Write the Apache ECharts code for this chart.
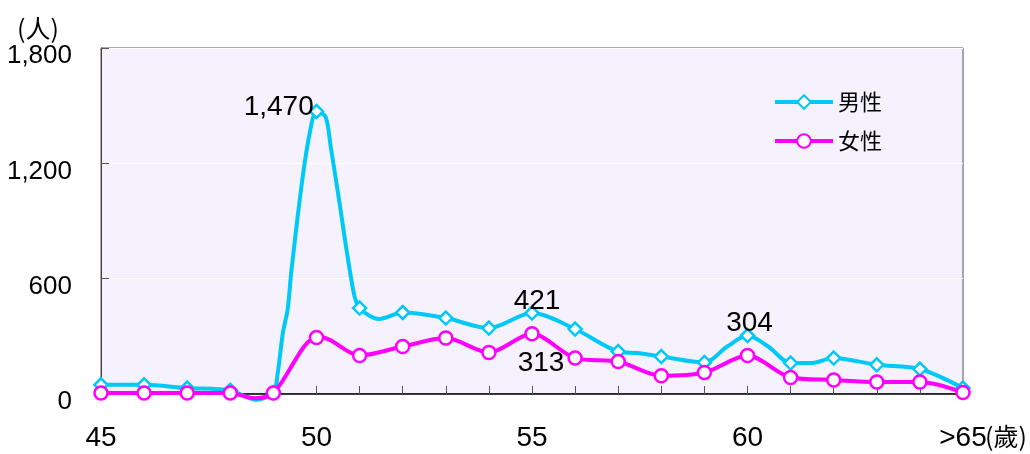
<!DOCTYPE html>
<html>
<head>
<meta charset="utf-8">
<script src="https://cdn.jsdelivr.net/npm/echarts@6/dist/echarts.min.js"></script>
<style>
  html, body { margin: 0; padding: 0; background: #fff; }
  #chart { width: 1030px; height: 454px; }
</style>
</head>
<body>
<div id="chart"></div>
<script>
// ages with a marker are whole years; the fractional ones trace the bends of the curve
const maleAges = [45, 46, 47, 48, 48.6, 49, 49.1, 49.22, 49.33, 49.42, 49.68, 49.87, 50, 50.21, 50.33, 50.5, 50.85,
  51, 51.45, 52, 53, 54, 55, 56, 57, 57.43, 58, 59, 59.53, 60, 60.48, 61, 61.47, 62, 63, 64, 65];
const maleValues = [48, 48, 31, 19, -30, 7, 109, 318, 438, 646, 1130, 1390, 1470, 1442, 1286, 1044, 542,
  447, 390, 424, 395, 343, 421, 338, 221, 213, 195, 164, 247, 304, 247, 161, 161, 187, 152, 130, 31];

const femaleAges = [45, 46, 47, 48, 48.55, 49, 50, 50.2, 51, 52, 53, 54, 55, 56, 57, 58, 59, 60, 61, 62, 63, 64, 65];
const femaleValues = [5, 5, 5, 5, -22, 5, 294, 291, 200, 247, 291, 216, 313, 187, 169, 95, 112, 200, 86, 73, 62, 62, 8];

const maleLabelAges = [50, 55, 60];
const femaleLabelAges = [55];

const xLabelValues = [45, 50, 55, 60, 65];
const xLabelTexts = ["45", "50", "55", "60", ">65"];
const yTicks = [0, 600, 1200, 1800];

const numFont = "'Liberation Sans', Arial, sans-serif";
const cjkFont = "'Noto Sans CJK TC', 'Noto Sans CJK SC', sans-serif";

const chartDom = document.getElementById("chart");
const myChart = echarts.init(chartDom, null, { renderer: "canvas" });

const fmt = (v) => v.toLocaleString("en-US");

const labelStyles = {
  male: {
    50: { position: "left", distance: 0, offset: [5, -4] },
    55: { position: "top", distance: 0, offset: [5, 10] },
    60: { position: "top", distance: 0, offset: [2, 9] },
  },
  female: {
    55: { position: "bottom", distance: 0, offset: [9, 8] },
  },
};

const buildData = (xs, ys, labelAges, styles) =>
  xs.map((x, i) => {
    const y = ys[i];
    const item = { value: [x, y] };
    if (!Number.isInteger(x)) item.symbol = "none";
    if (labelAges.includes(x)) {
      item.label = {
        show: true,
        formatter: fmt(y),
        fontFamily: numFont,
        fontSize: 28,
        color: "#000",
        ...styles[x],
      };
    }
    return item;
  });

const option = {
  animation: false,
  backgroundColor: "#fff",
  grid: {
    left: 101,
    right: 67,
    top: 48,
    bottom: 60,
    show: true,
    backgroundColor: "#F5F2FD",
    borderColor: "#555",
    borderWidth: 1,
  },
  legend: {
    orient: "vertical",
    left: 768,
    top: 86,
    itemWidth: 58,
    itemHeight: 17,
    itemGap: 17,
    lineStyle: { width: 4 },
    textStyle: {
      fontFamily: cjkFont,
      fontSize: 22,
      color: "#000",
    },
    data: ["男性", "女性"],
  },
  graphic: [
    {
      type: "text",
      left: 17,
      top: 16,
      style: { text: "(人)", fontFamily: cjkFont, fontSize: 25, fill: "#000" },
    },
    {
      type: "text",
      left: 985,
      top: 424,
      style: { text: "(歲)", fontFamily: cjkFont, fontSize: 25, fill: "#000" },
    },
  ],
  xAxis: {
    type: "value",
    min: 45,
    max: 65,
    interval: 1,
    axisLine: { show: true, lineStyle: { color: "#000", width: 1.5 } },
    axisTick: { show: true, inside: true, length: 8, lineStyle: { color: "#555" } },
    splitLine: { show: false },
    axisLabel: {
      margin: 30,
      fontFamily: numFont,
      fontSize: 28,
      color: "#000",
      formatter: (v) => {
        const i = xLabelValues.indexOf(v);
        return i >= 0 ? xLabelTexts[i] : "";
      },
    },
  },
  yAxis: {
    type: "value",
    min: yTicks[0],
    max: yTicks[yTicks.length - 1],
    interval: yTicks[1] - yTicks[0],
    axisLine: { show: true, lineStyle: { color: "#444", width: 1 } },
    axisTick: { show: true, inside: true, length: 8, lineStyle: { color: "#555" } },
    splitLine: { show: true, lineStyle: { color: "#fff", width: 1 } },
    axisLabel: {
      margin: 29,
      verticalAlign: "top",
      lineHeight: 16,
      fontFamily: numFont,
      fontSize: 26,
      color: "#000",
      formatter: (v) => fmt(v),
    },
  },
  series: [
    {
      name: "男性",
      type: "line",
      smooth: 0.3,
      clip: false,
      symbol: "diamond",
      symbolSize: 13,
      showAllSymbol: true,
      lineStyle: { color: "#00C8F8", width: 4 },
      itemStyle: { color: "#fff", borderColor: "#00C8F8", borderWidth: 2.5 },
      data: buildData(maleAges, maleValues, maleLabelAges, labelStyles.male),
    },
    {
      name: "女性",
      type: "line",
      smooth: 0.3,
      clip: false,
      symbol: "circle",
      symbolSize: 13,
      showAllSymbol: true,
      lineStyle: { color: "#FF00FF", width: 4 },
      itemStyle: { color: "#fff", borderColor: "#FF00FF", borderWidth: 2.5 },
      data: buildData(femaleAges, femaleValues, femaleLabelAges, labelStyles.female),
    },
  ],
};

myChart.setOption(option);

const resizeChart = () => myChart.resize();
window.addEventListener("resize", resizeChart);
</script>
</body>
</html>
